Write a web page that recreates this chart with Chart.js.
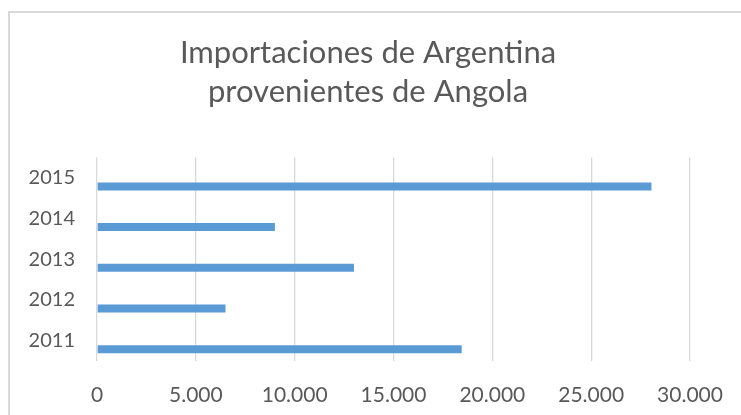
<!DOCTYPE html>
<html>
<head>
<meta charset="utf-8">
<script src="https://cdn.jsdelivr.net/npm/chart.js@4"></script>
<style>
  html, body { margin: 0; padding: 0; overflow: hidden; background: #fff; }
  #frame {
    position: absolute; left: 8px; top: 11px; width: 800px; height: 500px;
    border: 2px solid #d9d9d9; box-sizing: border-box;
  }
  #wrap { position: absolute; left: 0; top: 0; width: 741px; height: 415px; }
</style>
</head>
<body>
<div id="frame"></div>
<div id="wrap"><canvas id="chartImports"></canvas></div>
<script>
// Años y valores de importación (top to bottom as drawn)
const years = ['2015', '2014', '2013', '2012', '2011'];
const imports = [28050, 9000, 13000, 6500, 18450];
const emptySeries = [null, null, null, null, null];
const xTicks = [0, 5000, 10000, 15000, 20000, 25000, 30000];

const textColor = '#595959';
const fontFamily = 'Lato, "Open Sans", sans-serif';

const _chartImports = document.getElementById('chartImports');

new Chart(_chartImports, {
  type: 'bar',
  data: {
    labels: years,
    datasets: [
      {
        label: 'Serie 2',
        data: emptySeries,
        backgroundColor: '#ed7d31'
      },
      {
        label: 'Importaciones',
        data: imports,
        backgroundColor: '#5b9bd5'
      }
    ]
  },
  options: {
    indexAxis: 'y',
    responsive: true,
    maintainAspectRatio: false,
    animation: false,
    categoryPercentage: 0.84,
    barPercentage: 0.47,
    layout: { padding: { left: 8, right: 13, top: 34, bottom: 0 } },
    plugins: {
      legend: { display: false },
      tooltip: { enabled: false },
      title: {
        display: true,
        text: ['Importaciones de Argentina', 'provenientes de Angola'],
        color: textColor,
        font: { family: fontFamily, size: 31, weight: 'normal', lineHeight: 1.25 },
        padding: { top: 0, bottom: 46 }
      }
    },
    scales: {
      x: {
        min: 0,
        max: 30000,
        afterBuildTicks: axis => { axis.ticks = xTicks.map(v => ({ value: v })); },
        afterFit: axis => {
          axis.height = 54;
          axis.paddingLeft = 0;
          axis.paddingRight = 51;
        },
        grid: { color: '#d9d9d9', lineWidth: 1.3, drawTicks: false },
        border: { display: false },
        ticks: {
          color: textColor,
          padding: 24,
          font: { family: fontFamily, size: 21, lineHeight: 1 },
          callback: v => v.toLocaleString('es-AR')
        }
      },
      y: {
        afterFit: axis => { axis.width = 89; },
        grid: { display: false, drawTicks: false },
        border: { display: false },
        ticks: {
          color: textColor,
          padding: 22,
          font: { family: fontFamily, size: 20 }
        }
      }
    }
  }
});
</script>
</body>
</html>
